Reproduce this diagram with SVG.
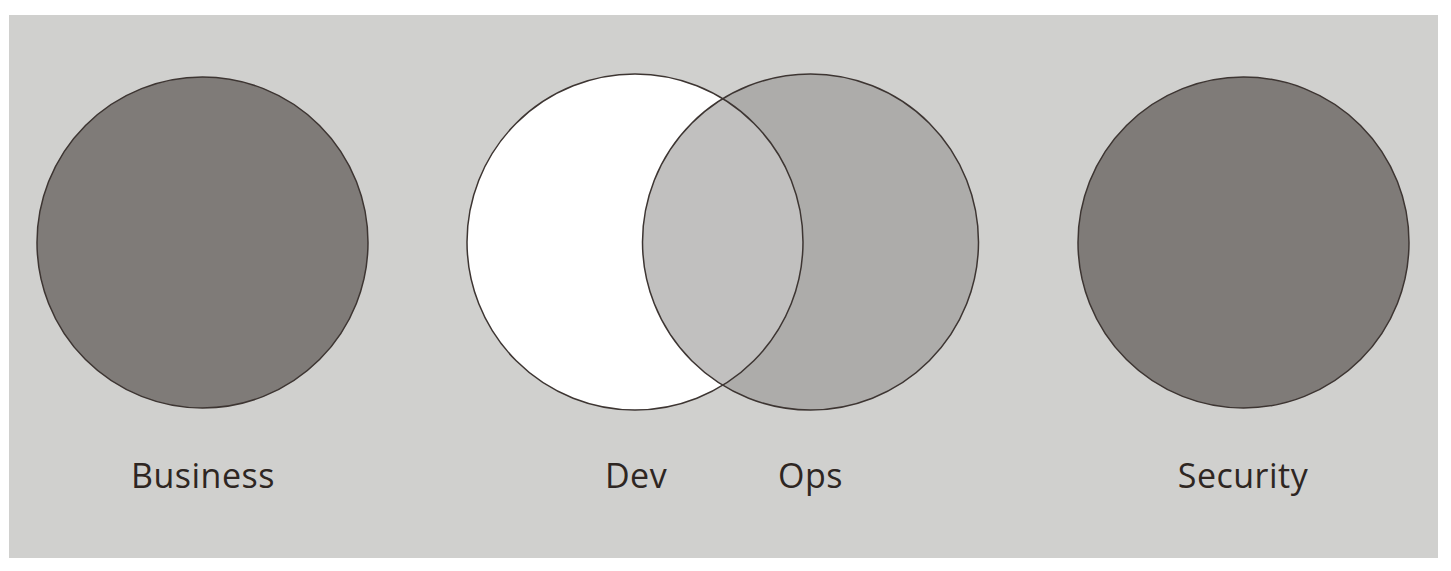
<svg xmlns="http://www.w3.org/2000/svg" width="1451" height="571" viewBox="0 0 1451 571">
<style>
.c{stroke:#3d3532;stroke-width:1.5}
.dark{fill:#7f7b78}
.lbl{font-family:"Open Sans","Noto Sans",sans-serif;font-size:34px;letter-spacing:0.5px;fill:#2e2622;text-anchor:middle}
</style>
<defs>
<clipPath id="devClip"><circle cx="635" cy="242" r="168"/></clipPath>
</defs>
<rect x="0" y="0" width="1451" height="571" fill="#ffffff"/>
<rect id="background" x="9" y="15" width="1429" height="543" fill="#d0d0ce"/>
<g id="business">
<circle class="c dark" cx="202.5" cy="242.5" r="165.5"/>
<text class="lbl" x="203" y="488">Business</text>
</g>
<g id="dev">
<circle cx="635" cy="242" r="168" fill="#ffffff"/>
<text class="lbl" x="636" y="488">Dev</text>
</g>
<g id="ops">
<circle cx="810.5" cy="242" r="168" fill="#adacaa"/>
<circle cx="810.5" cy="242" r="168" fill="#c1c0bf" clip-path="url(#devClip)"/>
<text class="lbl" x="810.5" y="488">Ops</text>
</g>
<g id="outlines" fill="none">
<circle class="c" cx="635" cy="242" r="168"/>
<circle class="c" cx="810.5" cy="242" r="168"/>
</g>
<g id="security">
<circle class="c dark" cx="1243.5" cy="242.5" r="165.5"/>
<text class="lbl" x="1243" y="488">Security</text>
</g>
<g id="connectors"></g>
</svg>
